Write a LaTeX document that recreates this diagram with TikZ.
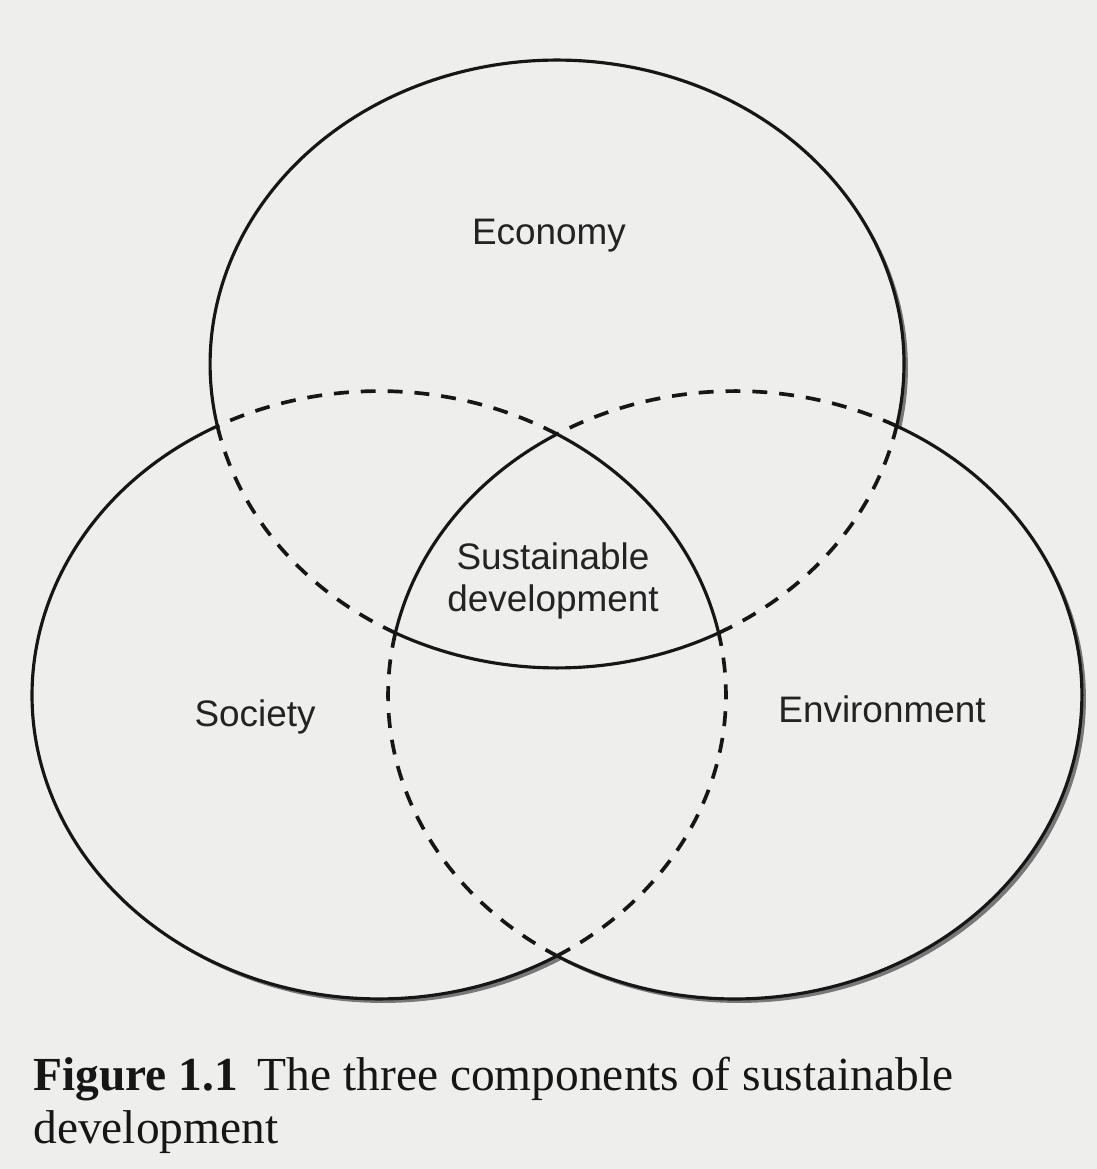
\documentclass[tikz,border=0pt]{standalone}
\usepackage{fontspec}
\setmainfont{Liberation Serif}
\setsansfont{Liberation Sans}
\usetikzlibrary{positioning}
\definecolor{paper}{RGB}{238,238,236}
\definecolor{shadowgray}{RGB}{120,120,120}
\definecolor{ink}{RGB}{22,22,22}
\definecolor{tagink}{RGB}{35,35,35}

\tikzset{
    ring/.style={line width=1.8pt, draw=ink},
    ringdash/.style={ring, line width=2.1pt, dash pattern=on 8.5pt off 6.8pt},
    ringsize/.style={x radius=6.94cm, y radius=6.08cm},
    tag/.style={font=\sffamily\fontsize{21}{25}\selectfont, text=tagink, inner sep=0pt, anchor=base},
    captext/.style={font=\rmfamily\fontsize{27}{32}\selectfont, text=ink, inner sep=0pt, anchor=base west}
}

\begin{document}
\begin{tikzpicture}[x=0.02cm, y=-0.02cm]
    % paper
    \useasboundingbox[fill=paper] (0,0) rectangle (1097,1169);

    \coordinate (eco) at (557,364);
    \coordinate (soc) at (379,695);
    \coordinate (env) at (735,695);

    % shadow under the three rings
    \fill[shadowgray] ([shift={(0.08cm,-0.08cm)}]eco) ellipse[ringsize]
                      ([shift={(0.08cm,-0.08cm)}]soc) ellipse[ringsize]
                      ([shift={(0.08cm,-0.08cm)}]env) ellipse[ringsize];
    \fill[paper] (eco) ellipse[ringsize] (soc) ellipse[ringsize] (env) ellipse[ringsize];

    % solid arcs: outer rims and the middle piece
    \foreach \c/\a/\b in {eco/-11.77/191.77, eco/242.22/297.78,
                          soc/117.78/300.86, soc/11.77/59.14,
                          env/-120.86/62.22, env/120.86/168.23}
        \draw[ring] (\c) ++(\a:6.94cm and 6.08cm) arc[ringsize, start angle=\a, end angle=\b];

    % dashed arcs
    \foreach \c/\a/\b in {eco/191.77/242.22, eco/297.78/348.23,
                          soc/-59.14/11.77, soc/59.14/117.78,
                          env/62.22/120.86, env/168.23/239.14}
        \draw[ringdash] (\c) ++(\a:6.94cm and 6.08cm) arc[ringsize, start angle=\a, end angle=\b];

    \node[tag] (economy) at (549,244) {Economy};
    \node[tag] (society) at (255,726) {Society};
    \node[tag] (environment) at (882,722) {Environment};
    \node[tag] (sdtop) at (553,569) {Sustainable};
    \node[tag] (sdbottom) at (553,611) {development};

    \node[captext] (capone) at (33,1090) {\textbf{Figure 1.1}\, The three components of sustainable};
    \node[captext] (captwo) at (33,1143) {development};
\end{tikzpicture}
\end{document}
